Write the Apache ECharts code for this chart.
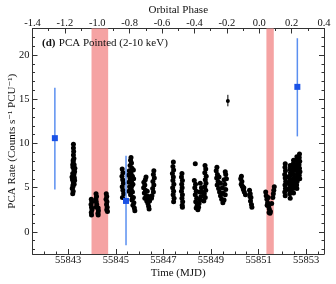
<!DOCTYPE html>
<html><head><meta charset="utf-8">
<script src="https://cdn.jsdelivr.net/npm/echarts@6/dist/echarts.min.js"></script>
<style>html,body{margin:0;padding:0;background:#fff}#c{width:336px;height:284px}</style>
</head><body><div id="c"></div>
<script>
// ---- data ----
const xTickLabels = [55843, 55845, 55847, 55849, 55851, 55853];
const xMinorTicks = [55841.5,55842,55842.5,55843.5,55844,55844.5,55845.5,55846,55846.5,55847.5,55848,55848.5,55849.5,55850,55850.5,55851.5,55852,55852.5,55853.5];
const yTickLabels = [0, 5, 10, 15, 20];
const yMinorTicks = [-2,-1,1,2,3,4,6,7,8,9,11,12,13,14,16,17,18,19,21,22];
const phaseMinorTicks = [-1.3,-1.1,-0.9,-0.7,-0.5,-0.3,-0.1,0.1,0.3];
const shadedBands = [[55843.98, 55844.68], [55851.33, 55851.64]];

// blue (scan / other) points
const blueMjd = [55842.44, 55845.43, 55852.63];
const blueRate = [10.6, 3.5, 16.4];
const blueLo = [4.8, -1.5, 10.8];
const blueHi = [16.3, 8.6, 21.9];

// isolated black point with error
const isoMjd = [55849.71];
const isoRate = [14.8];
const isoLo = [14.2];
const isoHi = [15.5];

// black PCA pointed clusters [MJD, rate]
const clusterA = [[55843.22,9.9],[55843.22,9.5],[55843.23,9.1],[55843.22,8.7],[55843.24,8.3],[55843.21,7.9],[55843.25,7.6],[55843.2,7.3],[55843.24,7.0],[55843.27,6.8],[55843.19,6.6],[55843.23,6.3],[55843.26,6.1],[55843.18,5.9],[55843.22,5.6],[55843.25,5.4],[55843.2,5.1],[55843.17,4.9],[55843.21,4.6],[55843.19,4.3],[55843.28,7.2],[55843.16,6.2],[55843.27,5.8],[55843.21,8.1],[55843.19,7.6],[55843.24,6.5],[55843.2,5.3]];
const clusterB = [[55843.97,3.7],[55843.99,3.4],[55843.96,3.1],[55843.98,2.8],[55844.0,2.5],[55843.97,2.2],[55843.98,1.9],[55844.17,4.3],[55844.19,4.0],[55844.16,3.7],[55844.18,3.4],[55844.2,3.1],[55844.18,2.8],[55844.26,2.7],[55844.27,2.4],[55844.25,2.1],[55844.26,1.9],[55844.6,4.3],[55844.62,4.0],[55844.59,3.7],[55844.63,3.4],[55844.61,3.1],[55844.64,2.8],[55844.62,2.5],[55844.65,2.3]];
const clusterC = [[55845.27,7.1],[55845.3,6.7],[55845.26,6.3],[55845.29,5.9],[55845.32,5.5],[55845.27,5.1],[55845.3,4.7],[55845.33,4.3],[55845.28,3.9],[55845.64,8.4],[55845.62,8.1],[55845.66,7.8],[55845.6,7.5],[55845.68,7.2],[55845.57,6.9],[55845.64,6.6],[55845.7,6.3],[55845.6,6.0],[55845.66,5.7],[55845.72,5.4],[55845.58,5.1],[55845.65,4.8],[55845.7,4.5],[55845.62,4.2],[55845.74,3.9],[55845.68,3.6],[55845.76,3.3],[55845.72,3.0],[55845.78,2.7],[55845.8,2.4],[55845.55,5.6],[55845.53,6.4],[55845.75,6.0],[55845.74,7.0],[55845.55,4.6],[55845.6,6.8],[55845.67,5.2],[55845.7,3.8]];
const clusterD = [[55846.27,6.2],[55846.18,5.6],[55846.22,5.3],[55846.17,5.0],[55846.25,4.7],[55846.2,4.4],[55846.28,4.1],[55846.22,3.8],[55846.3,3.5],[55846.35,3.2],[55846.38,2.9],[55846.4,2.6],[55846.32,4.6],[55846.38,4.0],[55846.42,3.5],[55846.6,6.9],[55846.58,6.5],[55846.62,6.1],[55846.56,5.7],[55846.6,5.3],[55846.55,4.9],[55846.58,4.5],[55846.52,4.1],[55846.5,3.8],[55846.24,5.9],[55846.34,3.9]];
const clusterE = [[55847.42,7.9],[55847.4,7.4],[55847.43,7.0],[55847.38,6.6],[55847.42,6.2],[55847.4,5.8],[55847.44,5.4],[55847.39,5.0],[55847.43,4.6],[55847.41,4.2],[55847.45,3.8],[55847.43,3.4],[55847.78,6.6],[55847.76,6.2],[55847.8,5.8],[55847.77,5.4],[55847.79,5.0],[55847.76,4.6],[55847.8,4.2],[55847.78,3.8],[55847.81,3.4],[55847.79,3.0],[55847.8,2.8]];
const clusterF = [[55848.34,7.7],[55848.3,5.8],[55848.35,5.4],[55848.32,5.0],[55848.38,4.6],[55848.34,4.2],[55848.4,3.8],[55848.36,3.4],[55848.42,3.0],[55848.38,2.7],[55848.45,2.5],[55848.5,3.2],[55848.55,3.6],[55848.58,4.0],[55848.62,4.5],[55848.6,5.0],[55848.55,5.5],[55848.75,7.5],[55848.78,7.1],[55848.74,6.7],[55848.8,6.3],[55848.76,5.9],[55848.79,5.5],[55848.74,5.1],[55848.78,4.7],[55848.72,4.3],[55848.76,3.9],[55848.7,3.5],[55848.48,2.8],[55848.52,4.5]];
const clusterG = [[55849.25,7.3],[55849.22,6.9],[55849.27,6.5],[55849.24,6.1],[55849.3,5.7],[55849.26,5.3],[55849.32,4.9],[55849.36,4.5],[55849.4,4.1],[55849.45,3.7],[55849.5,3.3],[55849.55,3.6],[55849.6,4.2],[55849.62,4.8],[55849.58,5.4],[55849.65,6.0],[55849.62,6.5],[55849.6,6.8],[55849.4,5.5],[55849.48,5.0],[55849.5,4.4],[55849.34,6.2],[55849.55,5.9]];
const clusterH = [[55850.28,6.3],[55850.25,6.0],[55850.3,5.7],[55850.27,5.4],[55850.33,5.1],[55850.36,4.8],[55850.4,4.5],[55850.45,4.2],[55850.62,4.7],[55850.65,4.3],[55850.68,3.9],[55850.66,3.5],[55850.7,3.1],[55850.72,2.8],[55850.64,4.0],[55850.31,5.2],[55850.38,5.0]];
const clusterI = [[55851.3,4.5],[55851.32,4.1],[55851.35,3.7],[55851.38,3.3],[55851.42,2.9],[55851.45,2.6],[55851.5,2.3],[55851.48,2.1],[55851.4,3.9],[55851.6,3.9],[55851.62,4.3],[55851.64,4.7],[55851.66,5.1],[55851.55,3.2],[55851.36,3.0],[55851.44,2.2]];
const clusterJ = [[55852.12,7.7],[55852.11,7.3],[55852.13,6.9],[55852.1,6.5],[55852.12,6.1],[55852.14,5.7],[55852.11,5.3],[55852.13,4.9],[55852.1,4.5],[55852.12,4.1],[55852.33,7.5],[55852.32,7.1],[55852.34,6.7],[55852.31,6.3],[55852.33,5.9],[55852.35,5.5],[55852.32,5.1],[55852.34,4.7],[55852.31,4.3],[55852.33,3.8],[55852.22,5.5],[55852.24,6.2],[55852.47,8.1],[55852.46,7.7],[55852.48,7.3],[55852.45,6.9],[55852.47,6.5],[55852.49,6.1],[55852.46,5.7],[55852.48,5.3],[55852.45,4.9],[55852.47,4.4],[55852.61,8.5],[55852.6,8.1],[55852.62,7.7],[55852.59,7.3],[55852.61,6.9],[55852.63,6.5],[55852.6,6.1],[55852.62,5.7],[55852.6,5.3],[55852.61,4.9],[55852.72,8.8],[55852.71,8.4],[55852.73,8.0],[55852.7,7.6],[55852.72,7.2],[55852.74,6.8],[55852.71,6.4],[55852.73,6.0],[55852.2,4.8],[55852.4,5.2],[55852.54,6.0]];

// ---- chart ----
const FONT = '"Liberation Serif", "DejaVu Serif", serif';
const XMIN = 55841.5, XMAX = 55853.75, YMIN = -2.5, YMAX = 23;
const black = [].concat(clusterA, clusterB, clusterC, clusterD, clusterE, clusterF, clusterG, clusterH, clusterI, clusterJ);

function errItem(color, width) {
  return function (params, api) {
    const x = api.value(0), lo = api.value(2), hi = api.value(3);
    const p1 = api.coord([x, lo]), p2 = api.coord([x, hi]);
    return { type: 'line', shape: { x1: p1[0], y1: p1[1], x2: p2[0], y2: p2[1] },
      style: { stroke: color, lineWidth: width } };
  };
}
const blueErr = blueMjd.map((m, i) => [m, blueRate[i], blueLo[i], blueHi[i]]);
const isoErr = isoMjd.map((m, i) => [m, isoRate[i], isoLo[i], isoHi[i]]);

const axLine = { show: true, onZero: false, lineStyle: { color: '#333', width: 1 } };
const noLine = { show: false, onZero: false };
const chart = echarts.init(document.getElementById('c'), null, { renderer: 'canvas' });
chart.setOption({
  animation: false,
  backgroundColor: '#fff',
  textStyle: { fontFamily: FONT },
  grid: { left: 32.5, right: 12, top: 28.5, bottom: 30, containLabel: false, outerBoundsMode: 'none' },
  graphic: [{
    type: 'text', left: 42, top: 37, z: 100,
    style: { rich: { b: { fontWeight: 'bold', fontSize: 11, fontFamily: FONT, fill: '#111' },
                     n: { fontSize: 11, fontFamily: FONT, fill: '#111' } },
             text: '{b|(d)} {n|PCA Pointed (2-10 keV)}' }
  }],
  xAxis: [
    { type: 'value', position: 'bottom', min: XMIN, max: XMAX, name: 'Time (MJD)', nameLocation: 'middle', nameGap: 13.5,
      nameMoveOverlap: false,
      nameTextStyle: { fontSize: 11, color: '#111', fontFamily: FONT },
      axisLine: axLine, splitLine: { show: false },
      axisTick: { inside: true, length: 5, customValues: xTickLabels, lineStyle: { color: '#333' } },
      axisLabel: { customValues: xTickLabels, margin: 1, fontSize: 10.5, color: '#111', fontFamily: FONT,
        formatter: v => String(v) } },
    { type: 'value', position: 'top', min: -1.4, max: 0.4, interval: 0.2, name: 'Orbital Phase', nameLocation: 'middle', nameGap: 13,
      nameMoveOverlap: false,
      nameTextStyle: { fontSize: 11, color: '#111', fontFamily: FONT },
      axisLine: axLine, splitLine: { show: false },
      axisTick: { inside: true, length: 5, lineStyle: { color: '#333' } },
      axisLabel: { margin: 0, fontSize: 10.5, color: '#111', fontFamily: FONT, showMinLabel: true, showMaxLabel: true,
        formatter: v => v.toFixed(1) } },
    { type: 'value', position: 'bottom', min: XMIN, max: XMAX, axisLine: noLine, splitLine: { show: false },
      axisTick: { inside: true, length: 2.5, customValues: xMinorTicks, lineStyle: { color: '#333' } }, axisLabel: { show: false } },
    { type: 'value', position: 'top', min: -1.4, max: 0.4, axisLine: noLine, splitLine: { show: false },
      axisTick: { inside: true, length: 2.5, customValues: phaseMinorTicks, lineStyle: { color: '#333' } }, axisLabel: { show: false } }
  ],
  yAxis: [
    { type: 'value', position: 'left', min: YMIN, max: YMAX, name: 'PCA Rate (Counts s\u207B\u00B9 PCU\u207B\u00B9)',
      nameLocation: 'middle', nameGap: 15, nameRotate: 90, nameMoveOverlap: false,
      nameTextStyle: { fontSize: 11, color: '#111', fontFamily: FONT },
      axisLine: axLine, splitLine: { show: false },
      axisTick: { inside: true, length: 5, customValues: yTickLabels, lineStyle: { color: '#333' } },
      axisLabel: { customValues: yTickLabels, margin: 3, fontSize: 10.5, color: '#111', fontFamily: FONT } },
    { type: 'value', position: 'right', min: YMIN, max: YMAX, axisLine: axLine, splitLine: { show: false },
      axisTick: { inside: true, length: 5, customValues: yTickLabels, lineStyle: { color: '#333' } }, axisLabel: { show: false } },
    { type: 'value', position: 'left', min: YMIN, max: YMAX, axisLine: noLine, splitLine: { show: false },
      axisTick: { inside: true, length: 2.5, customValues: yMinorTicks, lineStyle: { color: '#333' } }, axisLabel: { show: false } },
    { type: 'value', position: 'right', min: YMIN, max: YMAX, axisLine: noLine, splitLine: { show: false },
      axisTick: { inside: true, length: 2.5, customValues: yMinorTicks, lineStyle: { color: '#333' } }, axisLabel: { show: false } }
  ],
  series: [
    { type: 'scatter', data: [], silent: true, z: 1,
      markArea: { silent: true, itemStyle: { color: '#f5a3a3', opacity: 1 },
        data: shadedBands.map(b => [{ xAxis: b[0] }, { xAxis: b[1] }]) } },
    { type: 'scatter', data: black, symbol: 'circle', symbolSize: 5, itemStyle: { color: '#000', opacity: 1 }, z: 3 },
    { type: 'custom', data: isoErr, renderItem: errItem('#000', 1), encode: { x: 0, y: 1 }, z: 3 },
    { type: 'scatter', data: isoErr.map(d => [d[0], d[1]]), symbol: 'circle', symbolSize: 4, itemStyle: { color: '#000', opacity: 1 }, z: 4 },
    { type: 'custom', data: blueErr, renderItem: errItem('#5b8ff0', 1.5), encode: { x: 0, y: 1 }, z: 5 },
    { type: 'scatter', data: blueErr.map(d => [d[0], d[1]]), symbol: 'rect', symbolSize: 6, itemStyle: { color: '#1a52e6', opacity: 1 }, z: 6 }
  ]
});
</script></body></html>
